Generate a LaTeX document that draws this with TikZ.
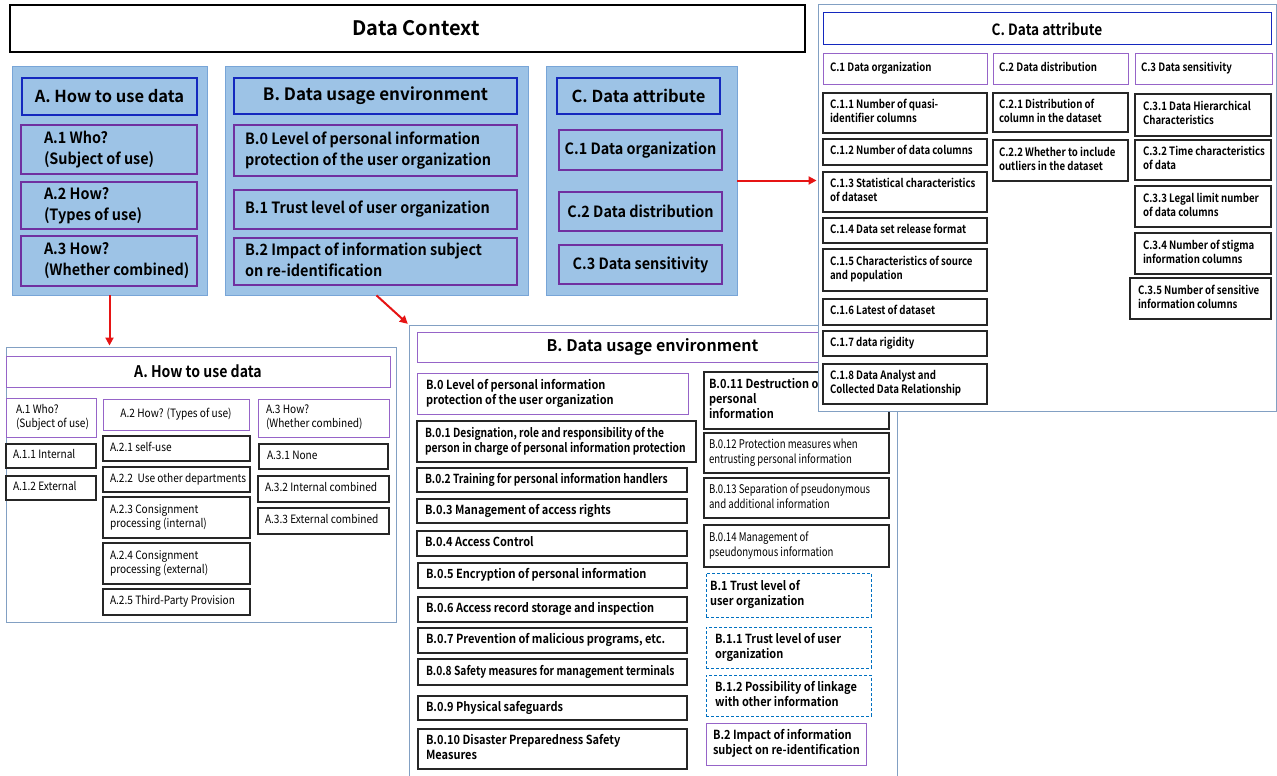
\documentclass[tikz,border=0pt]{standalone}
\usepackage{fontspec}
\setmainfont{Noto Sans CJK KR}[BoldFont={Noto Sans CJK KR Bold}]
\newfontfamily\pcondf{Noto Sans CJK KR}[FakeStretch=0.93,BoldFont={Noto Sans CJK KR Bold}]
\newfontfamily\condf{Noto Sans CJK KR}[FakeStretch=0.88,BoldFont={Noto Sans CJK KR Bold}]
\newfontfamily\mcondf{Noto Sans CJK KR}[FakeStretch=0.84,BoldFont={Noto Sans CJK KR Bold}]
\newfontfamily\bcondf{Noto Sans CJK KR}[FakeStretch=0.82,BoldFont={Noto Sans CJK KR Bold}]
\newfontfamily\ccondf{Noto Sans CJK KR}[FakeStretch=0.8,BoldFont={Noto Sans CJK KR Bold}]
\usetikzlibrary{arrows.meta}
\definecolor{panelblue}{RGB}{157,195,230}
\definecolor{paneledge}{RGB}{120,165,215}
\definecolor{hdrblue}{RGB}{20,40,190}
\definecolor{boxpurple}{RGB}{112,48,160}
\definecolor{lpurple}{RGB}{150,100,200}
\definecolor{detailedge}{RGB}{130,160,195}
\definecolor{dashblue}{RGB}{0,112,192}
\definecolor{arrowred}{RGB}{230,20,20}
% left-aligned box: [style]{name}{x1}{y1}{x2}{y2}{indent}{text}
\newcommand\bx[8][]{%
  \pgfmathsetmacro\bxw{#5-#3}%
  \pgfmathsetmacro\bxi{#5-#3-8}%
  \pgfmathsetmacro\bxh{#6-#4}%
  \node[#1,inner xsep=4pt,inner ysep=0pt,minimum width=\bxw pt,minimum height=\bxh pt] (#2) at ({(#3+#5)/2},{(#4+#6)/2}) {\makebox[\bxi pt][l]{\hspace*{#7pt}\begin{tabular}{@{}l@{}}#8\end{tabular}}};}
% centered box: [style]{name}{x1}{y1}{x2}{y2}{text}
\newcommand\cbx[7][]{%
  \pgfmathsetmacro\bxw{#5-#3}%
  \pgfmathsetmacro\bxh{#6-#4}%
  \node[#1,inner sep=0pt,minimum width=\bxw pt,minimum height=\bxh pt,align=center] (#2) at ({(#3+#5)/2},{(#4+#6)/2}) {#7};}
\begin{document}
\begin{tikzpicture}[x=1pt,y=-1pt,
  title/.style={draw=black,line width=1.6pt,fill=white,font=\bfseries\fontsize{20}{24}\selectfont},
  bpanel/.style={draw=paneledge,fill=panelblue,line width=0.8pt},
  hdr/.style={draw=hdrblue,line width=1.3pt,font=\bfseries\fontsize{16.5}{20}\selectfont},
  pbox/.style={draw=boxpurple,line width=1.3pt,font=\pcondf\bfseries\fontsize{15.5}{21}\selectfont},
  dpanel/.style={draw=detailedge,fill=white,line width=0.9pt},
  dhdr/.style={draw=lpurple,line width=1pt,fill=white,font=\condf\bfseries\fontsize{16}{20}\selectfont},
  chdr/.style={draw=hdrblue,line width=1pt,fill=white,font=\condf\bfseries\fontsize{15.5}{20}\selectfont},
  lp/.style={draw=lpurple,line width=1pt,fill=white},
  sb/.style={draw=black!85,line width=1.1pt,fill=white},
  db/.style={draw=dashblue,dash pattern=on 3pt off 2pt,line width=1pt,fill=white},
  fa/.style={font=\condf\fontsize{11.5}{14}\selectfont},
  fb/.style={font=\condf\bfseries\fontsize{12.5}{15}\selectfont},
  fbc/.style={font=\bcondf\bfseries\fontsize{12.5}{15}\selectfont},
  fx/.style={font=\ccondf\fontsize{12}{15}\selectfont},
  fc/.style={font=\mcondf\bfseries\fontsize{11.5}{14}\selectfont},
  arr/.style={draw=arrowred,line width=2pt,shorten >=1pt,-{Triangle[length=8pt,width=8pt]}}
]
\useasboundingbox (0,0) rectangle (1277,776);
\fill[white] (0,0) rectangle (1277,776);

% ---- title
\cbx[title]{title}{10}{5}{805}{52}{\hspace*{17pt}Data Context}

% ---- blue panel A
\cbx[bpanel]{pA}{12}{66}{207}{295}{}
\cbx[hdr]{hA}{22}{78}{197}{115}{A. How to use data}
\bx[pbox]{pA1}{21}{125}{197}{174}{19}{A.1 Who?\\(Subject of use)}
\bx[pbox]{pA2}{21}{182}{197}{229}{19}{A.2 How?\\(Types of use)}
\bx[pbox]{pA3}{21}{236}{197}{286}{19}{A.3 How?\\(Whether combined)}

% ---- blue panel B
\cbx[bpanel]{pB}{225}{66}{528}{295}{}
\cbx[hdr,font=\bfseries\fontsize{17}{20}\selectfont]{hB}{234}{78}{517}{114}{B. Data usage environment}
\bx[pbox]{pB0}{234}{125}{517}{176}{7}{B.0 Level of personal information\\protection of the user organization}
\bx[pbox]{pB1}{234}{190}{517}{229}{7}{B.1 Trust level of user organization}
\bx[pbox]{pB2}{234}{238}{517}{285}{7}{B.2 Impact of information subject\\on re-identification}

% ---- blue panel C
\cbx[bpanel]{pC}{546}{66}{737}{295}{}
\cbx[hdr]{hC}{557}{78}{720}{114}{C. Data attribute}
\cbx[pbox]{pC1}{559}{130}{722}{170}{C.1 Data organization}
\cbx[pbox]{pC2}{559}{192}{722}{231}{C.2 Data distribution}
\cbx[pbox]{pC3}{559}{245}{722}{284}{C.3 Data sensitivity}

% ---- detail A
\cbx[dpanel]{dA}{6}{347}{396}{622}{}
\cbx[dhdr]{dhA}{6}{356}{390}{387}{A. How to use data}
\bx[lp,fa]{a1}{6}{398}{96}{437}{6}{A.1 Who?\\(Subject of use)}
\bx[sb,fa]{a11}{6}{444}{96}{468}{3}{A.1.1 Internal}
\bx[sb,fa]{a12}{6}{476}{96}{500}{3}{A.1.2 External}
\cbx[lp,fa]{a2}{103}{399}{249}{430}{A.2 How? (Types of use)}
\bx[sb,fa]{a21}{103}{436}{250}{461}{3}{A.2.1 self-use}
\bx[sb,fa]{a22}{103}{467}{250}{492}{3}{A.2.2\ \ Use other departments}
\bx[sb,fa]{a23}{103}{497}{250}{538}{3}{A.2.3 Consignment\\processing (internal)}
\bx[sb,fa]{a24}{103}{543}{250}{584}{3}{A.2.4 Consignment\\processing (external)}
\bx[sb,fa]{a25}{103}{589}{250}{615}{3}{A.2.5 Third-Party Provision}
\bx[lp,fa]{a3}{258}{399}{389}{437}{4}{A.3 How?\\(Whether combined)}
\bx[sb,fa]{a31}{259}{444}{388}{469}{4}{A.3.1 None}
\bx[sb,fa]{a32}{258}{476}{389}{502}{3}{A.3.2 Internal combined}
\bx[sb,fa]{a33}{258}{508}{389}{534}{3}{A.3.3 External combined}

% ---- detail B
\cbx[dpanel]{dB}{409}{325}{897}{800}{}
\cbx[dhdr,font=\bfseries\fontsize{16}{20}\selectfont]{dhB}{417}{332}{888}{362}{B. Data usage environment}
\bx[lp,fb]{b0}{417}{373}{688}{414}{5}{B.0 Level of personal information\\protection of the user organization}
\bx[sb,fbc]{b01}{417}{421}{696}{462}{4}{B.0.1 Designation, role and responsibility of the\\person in charge of personal information protection}
\bx[sb,fbc]{b02}{417}{468}{687}{492}{4}{B.0.2 Training for personal information handlers}
\bx[sb,fb]{b03}{417}{499}{687}{523}{4}{B.0.3 Management of access rights}
\bx[sb,fb]{b04}{417}{531}{687}{556}{4}{B.0.4 Access Control}
\bx[sb,fb]{b05}{418}{563}{687}{588}{4}{B.0.5 Encryption of personal information}
\bx[sb,fb]{b06}{418}{597}{687}{622}{4}{B.0.6 Access record storage and inspection}
\bx[sb,fb]{b07}{418}{628}{687}{653}{4}{B.0.7 Prevention of malicious programs, etc.}
\bx[sb,fbc]{b08}{418}{659}{687}{685}{4}{B.0.8 Safety measures for management terminals}
\bx[sb,fb]{b09}{418}{696}{687}{720}{4}{B.0.9 Physical safeguards}
\bx[sb,fb]{b010}{418}{729}{687}{769}{4}{B.0.10 Disaster Preparedness Safety\\Measures}
\bx[sb,fb]{b011}{704}{372}{889}{429}{1}{B.0.11 Destruction of\\personal\\information}
\bx[sb,fx]{b012}{704}{433}{889}{473}{1}{B.0.12 Protection measures when\\entrusting personal information}
\bx[sb,fx]{b013}{704}{478}{889}{518}{1}{B.0.13 Separation of pseudonymous\\and additional information}
\bx[sb,fx]{b014}{704}{525}{889}{567}{1}{B.0.14 Management of\\pseudonymous information}
\bx[db,fb]{b1}{706}{573}{871}{617}{0}{B.1 Trust level of\\user organization}
\bx[db,fb]{b11}{706}{627}{871}{668}{5}{B.1.1 Trust level of user\\organization}
\bx[db,fb]{b12}{706}{675}{871}{716}{5}{B.1.2 Possibility of linkage\\with other information}
\bx[lp,fb]{b2}{706}{723}{866}{765}{3}{B.2 Impact of information\\subject on re-identification}

% ---- detail C
\cbx[dpanel]{dC}{818}{4}{1276}{411}{}
\cbx[chdr]{dhC}{823}{13}{1271}{45}{C. Data attribute}
\bx[lp,fc]{c1}{823}{54}{987}{84}{3}{C.1 Data organization}
\bx[lp,fc]{c2}{993}{54}{1128}{84}{2}{C.2 Data distribution}
\bx[lp,fc]{c3}{1135}{54}{1272}{84}{2}{C.3 Data sensitivity}
\bx[sb,fc]{c11}{823}{93}{987}{133}{3}{C.1.1 Number of quasi-\\identifier columns}
\bx[sb,fc]{c12}{823}{139}{987}{165}{3}{C.1.2 Number of data columns}
\bx[sb,fc]{c13}{823}{172}{987}{212}{3}{C.1.3 Statistical characteristics\\of dataset}
\bx[sb,fc]{c14}{823}{218}{987}{243}{3}{C.1.4 Data set release format}
\bx[sb,fc]{c15}{823}{249}{987}{291}{3}{C.1.5 Characteristics of source\\and population}
\bx[sb,fc]{c16}{823}{299}{987}{325}{3}{C.1.6 Latest of dataset}
\bx[sb,fc]{c17}{823}{331}{987}{356}{3}{C.1.7 data rigidity}
\bx[sb,fc]{c18}{823}{364}{987}{404}{3}{C.1.8 Data Analyst and\\Collected Data Relationship}
\bx[sb,fc]{c21}{993}{93}{1128}{132}{2}{C.2.1 Distribution of\\column in the dataset}
\bx[sb,fc]{c22}{993}{140}{1128}{181}{2}{C.2.2 Whether to include\\outliers in the dataset}
\bx[sb,fc]{c31}{1135}{94}{1271}{136}{4}{C.3.1 Data Hierarchical\\Characteristics}
\bx[sb,fc]{c32}{1135}{140}{1271}{180}{4}{C.3.2 Time characteristics\\of data}
\bx[sb,fc]{c33}{1135}{186}{1271}{227}{4}{C.3.3 Legal limit number\\of data columns}
\bx[sb,fc]{c34}{1135}{233}{1271}{274}{4}{C.3.4 Number of stigma\\information columns}
\bx[sb,fc]{c35}{1130}{278}{1271}{319}{4}{C.3.5 Number of sensitive\\information columns}

% ---- arrows
\draw[arr] (pA.south) -- (pA.south |- dA.north);
\draw[arr] (pB.south) -- (dB.north west);
\draw[arr] (pC.east) -- (pC.east -| dC.west);
\end{tikzpicture}
\end{document}
